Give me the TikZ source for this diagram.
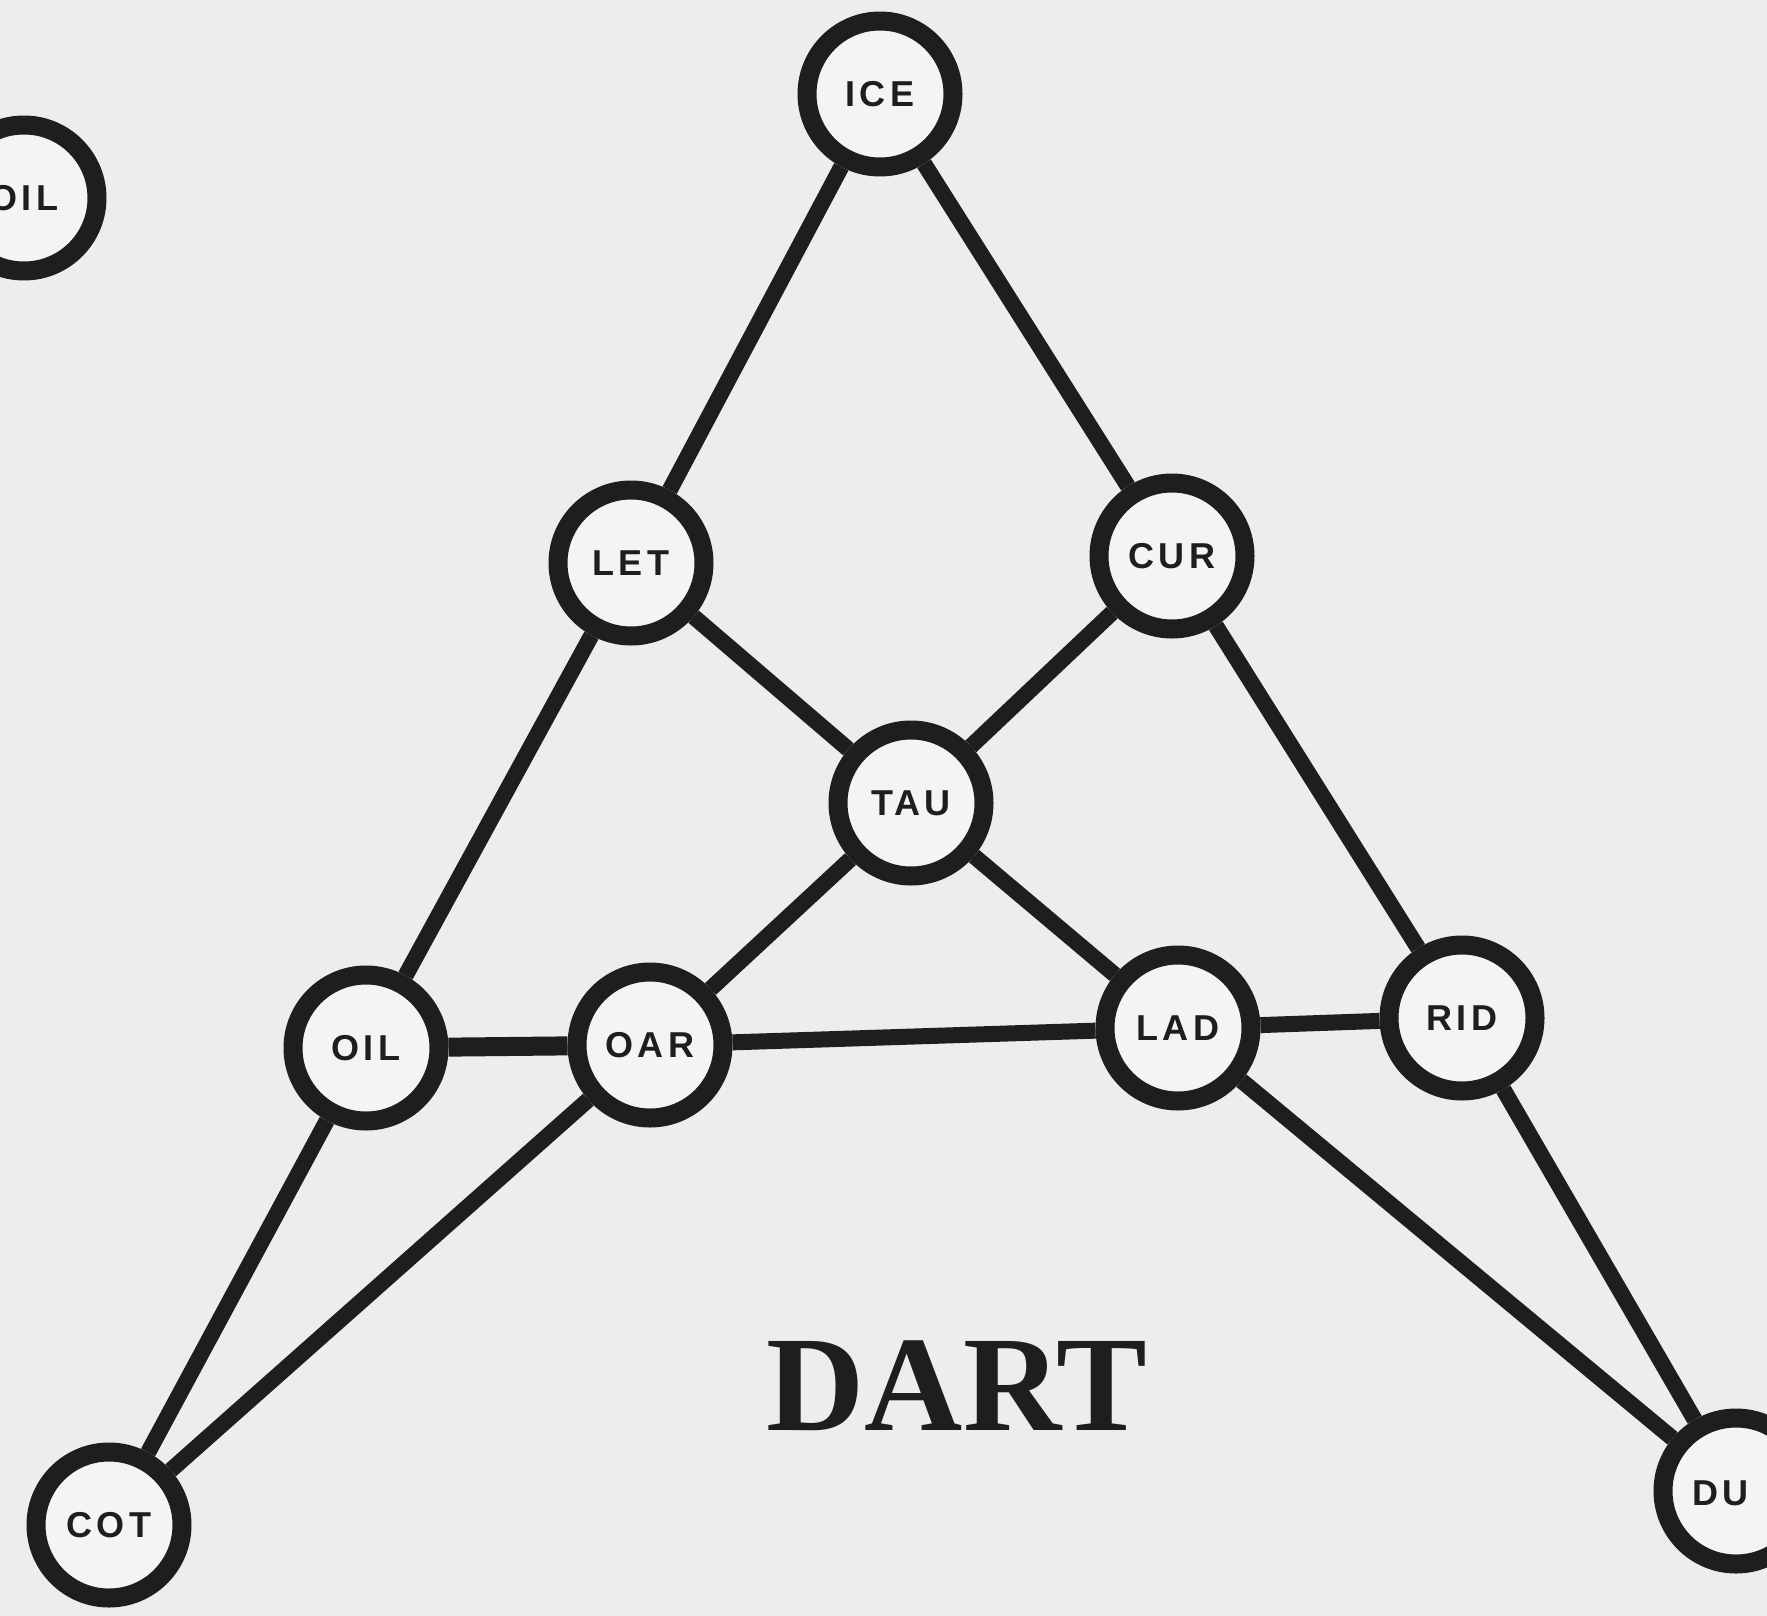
\documentclass[tikz,border=0pt]{standalone}
\usepackage{fontspec}
\setmainfont{Liberation Serif}
\newfontfamily\lblfont{Liberation Sans}[LetterSpace=12]
\definecolor{bg}{HTML}{EDEDED}
\definecolor{inner}{HTML}{F4F4F4}
\definecolor{ink}{HTML}{1E1E1E}
\begin{document}
\begin{tikzpicture}[x=0.5pt,y=-0.5pt,
  vtx/.style={circle,draw=ink,line width=9.5pt,fill=inner,minimum size=73pt,inner sep=0pt,
    font=\lblfont\bfseries\fontsize{18}{18}\selectfont,text=ink},
  lbl/.style={font=\lblfont\bfseries\fontsize{18}{18}\selectfont,text=ink,inner sep=0pt},
  edge/.style={draw=ink,line width=8pt}]
\clip (0,0) rectangle (1767,1616);
\fill[bg] (0,0) rectangle (1767,1616);
\node[vtx] (ice) at (880,94) {ICE};
\node[vtx] (oiltl) at (24,198) {OIL};
\node[vtx] (let) at (631,563) {LET};
\node[vtx] (cur) at (1172,556) {CUR};
\node[vtx] (tau) at (911,803) {TAU};
\node[vtx] (oil) at (366,1048) {OIL};
\node[vtx] (oar) at (650,1045) {OAR};
\node[vtx] (lad) at (1178,1028) {LAD};
\node[vtx] (rid) at (1462,1018) {RID};
\node[vtx] (cot) at (109,1525) {COT};
\node[vtx] (dud) at (1736,1491) {};
\node[lbl,anchor=west] (dulbl) at (1692,1493) {DU};
\draw[edge] (ice) -- (let);
\draw[edge] (ice) -- (cur);
\draw[edge] (let) -- (tau);
\draw[edge] (cur) -- (tau);
\draw[edge] (let) -- (oil);
\draw[edge] (cur) -- (rid);
\draw[edge] (tau) -- (oar);
\draw[edge] (tau) -- (lad);
\draw[edge,line width=9.5pt] (oil) -- (oar);
\draw[edge] (oar) -- (lad);
\draw[edge] (lad) -- (rid);
\draw[edge] (oil) -- (cot);
\draw[edge] (oar) -- (cot);
\draw[edge] (lad) -- (dud);
\draw[edge] (rid) -- (dud);
\node[font=\bfseries\fontsize{68}{68}\selectfont,text=ink] (title) at (957,1386) {DART};
\end{tikzpicture}
\end{document}
